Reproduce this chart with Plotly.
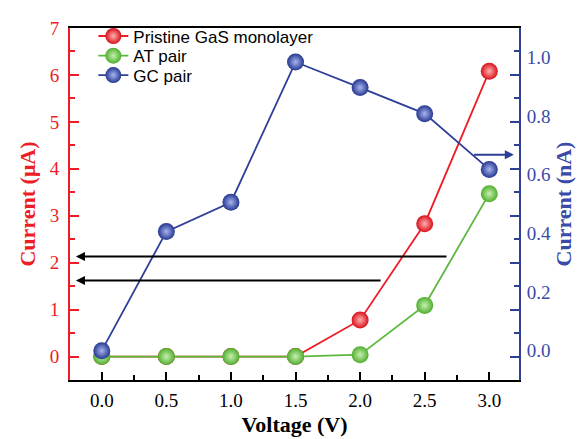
import plotly.graph_objects as go

voltage = [0.0, 0.5, 1.0, 1.5, 2.0, 2.5, 3.0]
pristine_uA = [0.0, 0.0, 0.0, 0.0, 0.78, 2.83, 6.08]
at_pair_uA = [0.0, 0.0, 0.0, 0.0, 0.04, 1.09, 3.47]
gc_pair_nA = [0.0, 0.406, 0.506, 0.984, 0.897, 0.808, 0.618]

series_names = ["Pristine GaS monolayer", "AT pair", "GC pair"]

RED = "#ee1c24"
GREEN = "#5cb83c"
BLUE = "#2e3f98"

serif = "Liberation Serif"
sans = "Liberation Sans"

fig = go.Figure()

def sphere(edge, center):
    return dict(size=17, color=edge, line=dict(width=0),
                gradient=dict(type="radial", color=center))

fig.add_trace(go.Scatter(x=voltage, y=pristine_uA, name=series_names[0], mode="lines+markers",
                         line=dict(color=RED, width=1.8), marker=sphere("#d9101a", "#ffb0b0"),
                         yaxis="y", legend="legend"))
fig.add_trace(go.Scatter(x=voltage, y=at_pair_uA, name=series_names[1], mode="lines+markers",
                         line=dict(color=GREEN, width=1.8), marker=sphere("#4fae2e", "#c8f0b0"),
                         yaxis="y", legend="legend2"))
fig.add_trace(go.Scatter(x=voltage, y=gc_pair_nA, name=series_names[2], mode="lines+markers",
                         line=dict(color=BLUE, width=1.8), marker=sphere("#26378f", "#a8b4f0"),
                         yaxis="y2", legend="legend3"))
# helper trace to display mirrored ticks on right side
fig.add_trace(go.Scatter(x=[0], y=[0], mode="markers", marker=dict(opacity=0),
                         showlegend=False, hoverinfo="skip", yaxis="y3"))

def leg(ypos):
    return dict(x=0.052, y=ypos, xanchor="left", yanchor="middle",
                bgcolor="rgba(0,0,0,0)", font=dict(family=sans, size=17, color="black"),
                tracegroupgap=0, itemwidth=30)

fig.update_layout(
    width=579, height=431,
    margin=dict(l=62, r=68, t=10, b=59),
    paper_bgcolor="white", plot_bgcolor="white",
    showlegend=True,
    legend=leg(0.976),
    legend2=leg(0.920),
    legend3=leg(0.865),
    xaxis=dict(range=[-0.246, 3.23], dtick=0.5, tick0=0, tickformat=".1f",
               automargin=False,
               showgrid=False, zeroline=False,
               showline=True, linecolor="black", linewidth=2, mirror=True,
               ticks="inside", ticklen=8, tickwidth=2, tickcolor="black",
               minor=dict(dtick=0.25, ticks="inside", ticklen=5, tickwidth=2, tickcolor="black"),
               tickfont=dict(family=serif, size=19, color="black"),
               ticklabelstandoff=2,
               title=dict(text="<b>Voltage (V)</b>", font=dict(family=serif, size=22, color="black"),
                          standoff=7)),
    yaxis=dict(range=[-0.5, 7], dtick=1, tick0=0,
               automargin=False,
               showgrid=False, zeroline=False,
               showline=True, linecolor=RED, linewidth=2,
               ticks="inside", ticklen=9, tickwidth=2, tickcolor=RED,
               minor=dict(dtick=0.5, ticks="inside", ticklen=5, tickwidth=2, tickcolor=RED),
               tickfont=dict(family=serif, size=19, color=RED),
               ticklabelstandoff=5,
               title=dict(text="<b>Current (μA)</b>", font=dict(family=serif, size=22, color=RED),
                          standoff=8)),
    yaxis2=dict(range=[-0.1, 1.1], dtick=0.2, tick0=0, tickformat=".1f",
                automargin=False,
                overlaying="y", side="right",
                showgrid=False, zeroline=False,
                showline=True, linecolor=BLUE, linewidth=2,
                ticks="",
                tickfont=dict(family=serif, size=19, color="#3a4aa8"),
                ticklabelstandoff=2,
                title=dict(text="<b>Current (nA)</b>", font=dict(family=serif, size=22, color="#3a4aa8"),
                           standoff=2)),
    yaxis3=dict(range=[-0.5, 7], dtick=1, tick0=0,
                automargin=False,
                overlaying="y", side="right",
                showgrid=False, zeroline=False, showline=False, showticklabels=False,
                ticks="inside", ticklen=9, tickwidth=2, tickcolor=BLUE,
                minor=dict(dtick=0.5, ticks="inside", ticklen=5, tickwidth=2, tickcolor=BLUE)),
)

arrow_common = dict(text="", showarrow=True, arrowhead=2, arrowsize=0.9, arrowwidth=2,
                    axref="x", xref="x")
fig.add_annotation(x=-0.2, y=2.13, ax=2.68, ay=2.13, yref="y", ayref="y",
                   arrowcolor="black", **arrow_common)
fig.add_annotation(x=-0.2, y=1.62, ax=2.17, ay=1.62, yref="y", ayref="y",
                   arrowcolor="black", **arrow_common)
fig.add_annotation(x=3.19, y=0.668, ax=2.87, ay=0.668, yref="y2", ayref="y2",
                   arrowcolor=BLUE, **arrow_common)

fig.write_html("out.html")
